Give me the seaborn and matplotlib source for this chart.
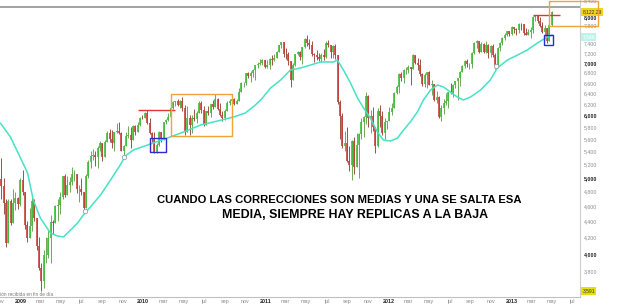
import numpy as np
import pandas as pd
import matplotlib
matplotlib.use("Agg")
import matplotlib.pyplot as plt
import matplotlib.dates as mdates
from matplotlib.patches import Rectangle
from matplotlib.ticker import NullLocator
from matplotlib.transforms import blended_transform_factory
import seaborn as sns

# ---------------- data (weekly bars, week ending Friday) ----------------
first_week_end = "2008-10-31"
first_open = 4300

close_2008 = [4988, 4875, 4650, 4127, 4670, 4380, 4640, 4710, 4630]
high_2008 = [5050, 5300, 5000, 4700, 4700, 4700, 4840, 4800, 4720]
low_2008 = [4200, 4700, 4500, 4080, 4200, 4350, 4400, 4550, 4560]

close_2009 = [4970, 4790, 4360, 4190, 4340, 4670, 4450, 4090, 3840, 3700, 3990, 3990,
              4190, 4390, 4380, 4600, 4620, 4720, 5030, 4760, 4890, 4940, 5050, 5050,
              4840, 4840, 4800, 4580, 5030, 5230, 5330, 5350, 5310, 5460, 5530, 5310,
              5550, 5700, 5600, 5530, 5710, 5740, 5700, 5410, 5490, 5650, 5670, 5580,
              5820, 5720, 5830, 5960]
high_2009 = [4990, 5110, 4780, 4400, 4580, 4720, 4700, 4400, 4200, 3900, 4050, 4200,
             4290, 4480, 4420, 4620, 4700, 4800, 5030, 5050, 5020, 5010, 5160, 5120,
             5050, 4900, 5000, 4800, 5050, 5260, 5400, 5440, 5400, 5480, 5560, 5480,
             5580, 5740, 5760, 5750, 5720, 5870, 5890, 5720, 5500, 5720, 5820, 5800,
             5840, 5830, 5880, 5970]
low_2009 = [4600, 4750, 4300, 4140, 4250, 4280, 4400, 4050, 3820, 3591, 3620, 3900,
            3950, 3900, 4240, 4400, 4400, 4500, 4700, 4730, 4750, 4800, 4900, 4950,
            4780, 4660, 4750, 4550, 4570, 5000, 5150, 5270, 5180, 5150, 5400, 5250,
            5340, 5550, 5550, 5460, 5400, 5700, 5680, 5400, 5300, 5500, 5620, 5450,
            5600, 5670, 5710, 5820]

close_2010 = [5957, 6040, 5870, 5700, 5610, 5380, 5500, 5720, 5600, 5880, 5920, 5980,
              6130, 6240, 6250, 6180, 6260, 6140, 5720, 5950, 5830, 5950, 5940, 6050,
              6220, 6100, 5830, 6070, 6040, 6200, 6150, 6290, 6110, 6010, 5950, 6080,
              6230, 6260, 6300, 6210, 6250, 6420, 6600, 6600, 6800, 6740, 6790, 6850,
              6950, 6980, 6990, 7060, 6914]
high_2010 = [6010, 6060, 6094, 5960, 5720, 5710, 5530, 5730, 5710, 5890, 5930, 6050,
             6140, 6250, 6260, 6290, 6270, 6340, 6180, 6170, 6010, 6010, 6120, 6070,
             6260, 6260, 6160, 6080, 6160, 6200, 6270, 6390, 6310, 6230, 6080, 6120,
             6260, 6290, 6310, 6320, 6300, 6500, 6610, 6620, 6800, 6810, 6840, 6880,
             6960, 7010, 7080, 7080, 7020]
low_2010 = [5930, 5980, 5850, 5690, 5550, 5400, 5420, 5490, 5550, 5580, 5850, 5900,
            5890, 6110, 6170, 6170, 6130, 6080, 5660, 5910, 5660, 5700, 5910, 5860,
            6040, 6050, 5810, 5830, 6010, 5980, 6110, 6240, 6090, 5990, 5900, 5920,
            6080, 6180, 6200, 6190, 6210, 6280, 6430, 6520, 6560, 6690, 6620, 6710,
            6650, 6900, 6960, 6950, 6900]

close_2011 = [6950, 7080, 7060, 7100, 7220, 7370, 7430, 7190, 7180, 7040, 6660, 6950,
              7180, 7220, 7110, 7320, 7510, 7420, 7380, 7170, 7160, 7110, 7070, 7160,
              7120, 7420, 7370, 7220, 7340, 7160, 6240, 5990, 5480, 5540, 5250, 5190,
              5570, 5160, 5500, 5680, 5880, 5970, 6350, 5960, 5990, 5800, 5490, 6080,
              5990, 5700, 5880, 5898]
high_2011 = [7050, 7100, 7160, 7190, 7250, 7380, 7440, 7420, 7310, 7220, 7020, 7000,
             7190, 7240, 7240, 7330, 7520, 7600, 7500, 7450, 7200, 7270, 7200, 7210,
             7280, 7450, 7490, 7370, 7370, 7390, 7160, 6270, 6050, 5740, 5800, 5490,
             5590, 5640, 5700, 5700, 5950, 5990, 6430, 6360, 6100, 6150, 5780, 6130,
             6190, 6070, 5960, 5900]
low_2011 = [6900, 6870, 6960, 7040, 7100, 7220, 7300, 7110, 7080, 6950, 6510, 6710,
            6930, 7150, 7060, 6980, 7300, 7350, 7280, 7130, 7020, 7050, 7040, 7010,
            7060, 7100, 7330, 7100, 7100, 7070, 6200, 5600, 5450, 5400, 5230, 5100,
            4970, 5060, 5180, 5000, 5600, 5640, 5850, 5800, 5700, 5740, 5370, 5470,
            5800, 5670, 5600, 5760]

close_2012 = [6060, 6140, 6400, 6510, 6770, 6690, 6850, 6860, 6920, 6880, 7150, 6990,
              6950, 6780, 6580, 6760, 6810, 6560, 6580, 6270, 6340, 5980, 6130, 6230,
              6260, 6420, 6410, 6560, 6630, 6690, 6820, 6940, 7040, 6970, 6970, 7210,
              7410, 7450, 7220, 7400, 7230, 7380, 7200, 7360, 7160, 6950, 7310, 7410,
              7520, 7590, 7670, 7610]
high_2012 = [6150, 6220, 6420, 6560, 6790, 6820, 6870, 6910, 6950, 6920, 7190, 7130,
             7100, 7070, 6800, 6800, 6820, 6830, 6660, 6560, 6440, 6350, 6180, 6300,
             6400, 6430, 6590, 6570, 6640, 6700, 6840, 6960, 7060, 7080, 7000, 7230,
             7440, 7480, 7430, 7440, 7410, 7450, 7390, 7380, 7400, 7210, 7320, 7430,
             7540, 7630, 7680, 7680]
low_2012 = [5910, 6010, 6180, 6380, 6410, 6640, 6600, 6780, 6790, 6550, 6890, 6970,
            6850, 6740, 6540, 6510, 6500, 6550, 6360, 6250, 6230, 5950, 5910, 6030,
            6190, 6140, 6390, 6340, 6500, 6270, 6540, 6820, 6900, 6920, 6870, 6900,
            7180, 7310, 7200, 7230, 7200, 7200, 7100, 7120, 7110, 6880, 6960, 7250,
            7380, 7490, 7570, 7560]

close_2013 = [7780, 7720, 7700, 7840, 7830, 7630, 7590, 7660, 7710, 8000, 8050, 7910,
              7800, 7660, 7740, 7460, 7810, 8122]
high_2013 = [7790, 7780, 7740, 7860, 7870, 7820, 7740, 7720, 7780, 8020, 8058, 8000,
             7990, 7880, 7820, 7740, 7840, 8130]
low_2013 = [7600, 7630, 7590, 7640, 7710, 7580, 7580, 7580, 7520, 7630, 7910, 7850,
            7770, 7640, 7570, 7420, 7480, 7800]

# moving average
ma_dates = ["2008-11-02", "2008-12-02", "2009-01-01", "2009-01-22", "2009-02-08",
            "2009-03-01", "2009-03-31", "2009-04-21", "2009-05-09", "2009-05-30",
            "2009-06-20", "2009-07-07", "2009-07-28", "2009-08-27", "2009-09-26",
            "2009-10-26", "2009-11-09", "2009-12-03", "2010-01-23", "2010-03-14",
            "2010-05-01", "2010-06-21", "2010-08-10", "2010-09-27", "2010-11-01",
            "2010-12-01", "2010-12-22", "2011-01-15", "2011-02-14", "2011-03-15",
            "2011-04-14", "2011-05-14", "2011-06-13", "2011-07-21", "2011-08-02",
            "2011-08-20", "2011-09-10", "2011-10-01", "2011-10-19", "2011-11-08",
            "2011-11-29", "2011-12-17", "2012-01-07", "2012-01-28", "2012-02-15",
            "2012-03-06", "2012-03-27", "2012-04-14", "2012-05-05", "2012-05-26",
            "2012-06-13", "2012-07-03", "2012-07-24", "2012-08-11", "2012-09-01",
            "2012-10-01", "2012-10-30", "2012-11-20", "2012-12-20", "2013-01-19",
            "2013-02-17", "2013-03-19", "2013-04-18", "2013-05-03"]
ma_values = [5868, 5633, 5298, 5070, 4685,
             4445, 4254, 4217, 4205, 4292,
             4381, 4484, 4590, 4754, 4967,
             5200, 5329, 5423, 5519, 5616,
             5715, 5834, 5902, 5972, 6042,
             6185, 6313, 6500, 6654, 6851,
             6892, 6952, 7014, 7014, 7055,
             6851, 6596, 6313, 6131, 5954,
             5715, 5583, 5567, 5616, 5749,
             5886, 6060, 6276, 6462, 6558,
             6519, 6425, 6331, 6276, 6331,
             6462, 6654, 6892, 7055, 7158,
             7264, 7414, 7546, 7590]

touch_dates = ["2009-07-13", "2009-11-04", "2012-11-16"]
touch_values = [4536, 5313, 6930]

last_price = 8122.29
ma_last = 7546
min_price = 3591

y_ticks = list(range(3800, 8401, 200))
hidden_tick_labels = [8200, 7600]   # covered by the price tags
month_abbr = {1: "ene", 3: "mar", 5: "may", 7: "jul", 9: "sep", 11: "nov"}

line1 = "CUANDO LAS CORRECCIONES SON MEDIAS Y UNA SE SALTA ESA"
line2 = "MEDIA, SIEMPRE HAY REPLICAS A LA BAJA"
footnote = "Cotización recibida en fin de día"

# ---------------- assemble ----------------
close = np.array(close_2008 + close_2009 + close_2010 + close_2011 + close_2012 + close_2013, float)
high = np.array(high_2008 + high_2009 + high_2010 + high_2011 + high_2012 + high_2013, float)
low = np.array(low_2008 + low_2009 + low_2010 + low_2011 + low_2012 + low_2013, float)
assert len(close) == len(high) == len(low), (len(close), len(high), len(low))
openp = np.concatenate([[first_open], close[:-1]])
high = np.maximum(high, np.maximum(openp, close))
low = np.minimum(low, np.minimum(openp, close))

week_end = pd.date_range(first_week_end, periods=len(close), freq="W-FRI")
xd = mdates.date2num(week_end - pd.Timedelta(days=2))

sns.set_theme(style="white")
plt.rcParams["font.family"] = ["Liberation Sans", "DejaVu Sans"]

fig = plt.figure(figsize=(6.28, 3.05), dpi=100)
ax = fig.add_axes([0, 1 - 297 / 305, 580 / 628, 297 / 305])
ax.set_facecolor("white")

up = close >= openp
body_col = np.where(up, "#3fbf3a", "#c8403a")
wick_col = np.where(up, "#5a9a40", "#8a3a2a")
ax.vlines(xd, low, high, colors=wick_col, lw=0.6, zorder=2)
ax.vlines(xd, np.minimum(openp, close), np.maximum(openp, close), colors=body_col, lw=1.2, zorder=3)

ma_df = pd.DataFrame({"date": pd.to_datetime(ma_dates), "ma": ma_values})
sns.lineplot(data=ma_df, x="date", y="ma", ax=ax, color="#46e2c6", lw=1.1, zorder=4)

ax.plot(mdates.date2num(pd.to_datetime(touch_dates)), touch_values, "o", ms=3.2,
        mfc="white", mec="#9a9a9a", mew=0.6, zorder=5)

ax.set_yscale("log")
ax.set_ylim(3528, 8408)
x0 = mdates.date2num(pd.Timestamp("2008-11-02 12:00"))
x1 = mdates.date2num(pd.Timestamp("2013-07-24"))
ax.set_xlim(x0, x1)

# annotations
d = lambda s: mdates.date2num(pd.Timestamp(s))
ax.axhline(8237, color="#9c9c9c", lw=1.3, zorder=1)
ax.hlines(6096, d("2009-12-18"), d("2010-04-07"), color="#e03434", lw=1.0, zorder=6)
ax.hlines(8047, d("2013-03-06"), d("2013-05-26"), color="#e03434", lw=1.0, zorder=6)
ax.add_patch(Rectangle((d("2010-01-22"), 5390), d("2010-03-10") - d("2010-01-22"), 5618 - 5390,
                       fill=False, ec="#2a2ad0", lw=1.0, zorder=6))
ax.add_patch(Rectangle((d("2013-04-09"), 7375), d("2013-05-05") - d("2013-04-09"), 7600 - 7375,
                       fill=False, ec="#2a2ad0", lw=1.0, zorder=6))
ax.add_patch(Rectangle((d("2010-03-26"), 5651), d("2010-09-21") - d("2010-03-26"), 6388 - 5651,
                       fill=False, ec="#f2a23a", lw=1.0, zorder=6))
ax.add_patch(Rectangle((d("2013-04-23"), 7792), d("2013-09-16") - d("2013-04-23"), 8380 - 7792,
                       fill=False, ec="#f2a23a", lw=1.0, zorder=6, clip_on=False))

# y axis on the right
ax.yaxis.tick_right()
ax.set_yticks(y_ticks)
ax.set_yticklabels(["" if v in hidden_tick_labels else f"{v:,}" for v in y_ticks])
ax.yaxis.set_minor_locator(NullLocator())
for lbl, v in zip(ax.get_yticklabels(), y_ticks):
    if v % 1000 == 0:
        lbl.set_fontweight("bold")
        lbl.set_color("#222222")
    else:
        lbl.set_color("#8a8a8a")
ax.tick_params(axis="y", length=0, pad=2.5, labelsize=3.8)

# x axis
mt = pd.date_range("2008-11-01", "2013-07-01", freq="2MS")
ax.set_xticks(mdates.date2num(mt))
ax.set_xticklabels([str(t.year) if t.month == 1 else month_abbr[t.month] for t in mt])
for lbl, t in zip(ax.get_xticklabels(), mt):
    if t.month == 1:
        lbl.set_fontweight("bold")
        lbl.set_color("#222222")
    else:
        lbl.set_color("#8a8a8a")
ax.tick_params(axis="x", length=0, pad=1.5, labelsize=3.9)
ax.set_xlabel("")
ax.set_ylabel("")
ax.grid(False)

for s in ["left", "top"]:
    ax.spines[s].set_visible(False)
ax.spines["right"].set_color("#cfcfcf")
ax.spines["right"].set_linewidth(0.8)
ax.spines["bottom"].set_color("#c0c0c0")
ax.spines["bottom"].set_linewidth(0.8)
ax.spines["bottom"].set_linestyle((0, (1, 1)))

# price tags on the right
bt = blended_transform_factory(ax.transAxes, ax.transData)
ax.text(1.004, last_price, f"{last_price:,.2f}", transform=bt, fontsize=3.6, va="center", ha="left",
        color="#333333", bbox=dict(boxstyle="square,pad=0.25", fc="#f4d21e", ec="none"), clip_on=False)
ax.text(1.004, ma_last, f"{ma_last:,}", transform=bt, fontsize=3.6, va="center", ha="left",
        color="#ffffff", bbox=dict(boxstyle="square,pad=0.25", fc="#bff3ea", ec="none"), clip_on=False)
ax.text(1.004, min_price, f"{min_price:,}", transform=bt, fontsize=3.6, va="center", ha="left",
        color="#333333", bbox=dict(boxstyle="square,pad=0.25", fc="#e2e20a", ec="none"), clip_on=False)

# main annotation text
fig.text(157 / 628, 1 - 200 / 305, line1, fontsize=8.1, fontweight="bold", color="black",
         ha="left", va="center")
fig.text(222 / 628, 1 - 215 / 305, line2, fontsize=8.9, fontweight="bold", color="black",
         ha="left", va="center")
fig.text(53 / 628, 1 - 294 / 305, footnote, fontsize=3.4, color="#777777", ha="right", va="center")

fig.savefig("out.png", dpi=100)
